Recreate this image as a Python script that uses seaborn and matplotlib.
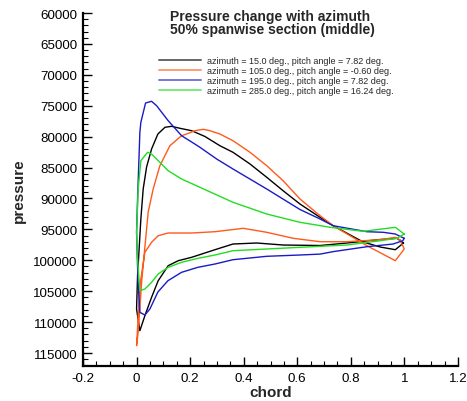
import numpy as np
import pandas as pd
import matplotlib
matplotlib.use("Agg")
import matplotlib.pyplot as plt
from matplotlib.ticker import MultipleLocator
from matplotlib.lines import Line2D
import seaborn as sns

# ---------------- data ----------------
labels = [
    "azimuth = 15.0 deg., pitch angle = 7.82 deg.",
    "azimuth = 105.0 deg., pitch angle = -0.60 deg.",
    "azimuth = 195.0 deg., pitch angle = 7.82 deg.",
    "azimuth = 285.0 deg., pitch angle = 16.24 deg.",
]

chord_az15 = [0.9966, 0.966, 0.9095, 0.846, 0.734, 0.685, 0.610, 0.547, 0.486, 0.4235,
              0.360, 0.311, 0.2553, 0.2056, 0.162, 0.131, 0.106, 0.0796, 0.056, 0.0374,
              0.0247, 0.016, 0.0037, 0.0, 0.0123, 0.031, 0.056, 0.0807, 0.118, 0.1555,
              0.2056, 0.2927, 0.360, 0.4486, 0.547, 0.685, 0.785, 0.9095, 0.972, 0.9966]
pressure_az15 = [97205, 98289, 97852, 97043, 94407, 93048, 90896, 88745, 86577, 84426,
                 82533, 81466, 79977, 79039, 78651, 78328, 78490, 79573, 82000, 84911,
                 88470, 93323, 102495, 107881, 111391, 108965, 105989, 103304, 100877, 100068,
                 99518, 98289, 97367, 97205, 97529, 97610, 97205, 96639, 96444, 97205]

chord_az105 = [0.984, 0.9993, 0.966, 0.860, 0.734, 0.685, 0.610, 0.547, 0.486, 0.4235,
               0.360, 0.311, 0.274, 0.249, 0.218, 0.187, 0.168, 0.1245, 0.087, 0.062,
               0.0434, 0.0198, 0.006, 0.0, 0.0123, 0.031, 0.056, 0.0807, 0.118, 0.2056,
               0.2927, 0.3985, 0.486, 0.585, 0.685, 0.785, 0.9095, 0.966, 0.984]
pressure_az105 = [96720, 98175, 100068, 97642, 94407, 92789, 90087, 87127, 84701, 82533,
                  80657, 79573, 79039, 78813, 79039, 79573, 79848, 81466, 84701, 88470,
                  92190, 103028, 111601, 113818, 104112, 98709, 97092, 96024, 95587, 95587,
                  95378, 94828, 95475, 96444, 96995, 96995, 96671, 96283, 96720]

chord_az195 = [0.999, 0.966, 0.921, 0.860, 0.734, 0.685, 0.610, 0.486, 0.360, 0.299,
               0.2366, 0.2056, 0.168, 0.118, 0.0748, 0.056, 0.0336, 0.016, 0.0123, 0.0037,
               0.0, 0.005, 0.0123, 0.031, 0.0497, 0.0796, 0.117, 0.168, 0.229, 0.2927,
               0.360, 0.486, 0.610, 0.685, 0.734, 0.860, 0.958, 0.994, 0.999]
pressure_az195 = [96444, 95749, 95475, 95378, 94407, 93323, 91785, 88470, 85234, 83617,
                  81725, 80867, 79848, 77422, 74995, 74283, 74558, 77680, 79298, 90087,
                  95425, 103028, 108415, 108852, 107881, 105131, 103304, 101945, 101136, 100602,
                  99906, 99356, 99146, 99000, 98600, 97804, 97367, 96833, 96444]

chord_az285 = [0.9993, 0.966, 0.847, 0.7226, 0.610, 0.486, 0.360, 0.2366, 0.168, 0.118,
               0.0807, 0.056, 0.041, 0.031, 0.016, 0.006, 0.0, 0.0037, 0.0123, 0.031,
               0.056, 0.0807, 0.118, 0.168, 0.230, 0.2927, 0.360, 0.486, 0.610, 0.785,
               0.9095, 0.972, 0.9993]
pressure_az285 = [95749, 94666, 95313, 94666, 93857, 92514, 90621, 88195, 86852, 85510,
                  83892, 82808, 82533, 83083, 83892, 88470, 95475, 99793, 104921, 104646,
                  103562, 102220, 101136, 100327, 99680, 99146, 98451, 98175, 97901, 97529,
                  96833, 96444, 95749]

colors = ["#000000", "#ff5a1a", "#1a1ac8", "#22dd22"]

title_lines = ["Pressure change with azimuth", "50% spanwise section (middle)"]
x_label = "chord"
y_label = "pressure"
x_ticks = [-0.2, 0, 0.2, 0.4, 0.6, 0.8, 1, 1.2]
x_tick_labels = ["-0.2", "0", "0.2", "0.4", "0.6", "0.8", "1", "1.2"]
y_ticks = list(range(60000, 115001, 5000))

# ---------------- build long-form table ----------------
frames = []
for lab, cx, py in zip(labels,
                       [chord_az15, chord_az105, chord_az195, chord_az285],
                       [pressure_az15, pressure_az105, pressure_az195, pressure_az285]):
    frames.append(pd.DataFrame({"chord": cx, "pressure": py, "series": lab}))
df = pd.concat(frames, ignore_index=True)

# ---------------- plot ----------------
sns.set_style("ticks")
plt.rcParams["font.family"] = ["Liberation Sans", "DejaVu Sans"]

W, H = 467, 402
fig = plt.figure(figsize=(W / 100, H / 100), dpi=100)
ax = fig.add_axes([83 / W, 1 - 367 / H, (458 - 83) / W, (367 - 14) / H])

sns.lineplot(data=df, x="chord", y="pressure", hue="series", hue_order=labels,
             palette=colors, sort=False, estimator=None, units="series",
             linewidth=1.0, ax=ax, legend=False)

ax.set_xlim(-0.2, 1.2)
ax.set_ylim(117100, 60000)
ax.set_xticks(x_ticks)
ax.set_xticklabels(x_tick_labels)
ax.set_yticks(y_ticks)
ax.set_yticklabels([str(v) for v in y_ticks])
ax.xaxis.set_minor_locator(MultipleLocator(0.05))
ax.yaxis.set_minor_locator(MultipleLocator(1000))

for s in ["top", "right"]:
    ax.spines[s].set_visible(False)
for s in ["left", "bottom"]:
    ax.spines[s].set_linewidth(1.6)
    ax.spines[s].set_color("black")

ax.tick_params(which="major", direction="in", length=6.5, width=1.0, labelsize=9.6,
               colors="black", pad=4)
ax.tick_params(which="minor", direction="in", length=3.6, width=0.8, colors="black")
ax.tick_params(axis="x", which="major", pad=4)

ax.set_xlabel(x_label, fontsize=11, fontweight="bold", labelpad=1)
ax.set_ylabel(y_label, fontsize=11, fontweight="bold", labelpad=5)

fig.text(170 / W, 1 - 16.5 / H, title_lines[0], fontsize=10, fontweight="bold",
         ha="left", va="center")
fig.text(170 / W, 1 - 30 / H, title_lines[1], fontsize=10, fontweight="bold",
         ha="left", va="center")

handles = [Line2D([0], [0], color=c, lw=1.4, alpha=0.6) for c in colors]
leg = fig.legend(handles, labels, loc="upper left",
                 bbox_to_anchor=(159 / W, 1 - 57 / H), frameon=False,
                 fontsize=6.5, handlelength=4.6, handletextpad=0.7,
                 labelspacing=0.12, borderpad=0, borderaxespad=0)

fig.savefig("out.png", dpi=100)
